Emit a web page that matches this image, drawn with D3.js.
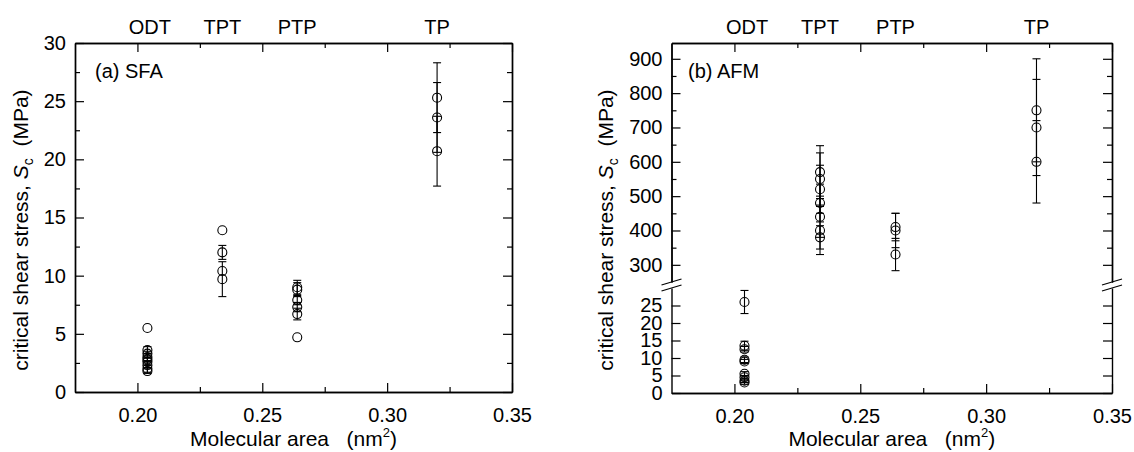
<!DOCTYPE html>
<html>
<head>
<meta charset="utf-8">
<script src="https://cdn.jsdelivr.net/npm/d3@7"></script>
<style>
body { margin: 0; background: #fff; }
text { font-family: "Liberation Sans", Arial, sans-serif; }
</style>
</head>
<body>
<script>
// phase labels along the top, placed at their molecular area
var phaseNames = ["ODT", "TPT", "PTP", "TP"];
var phaseArea = [0.205, 0.234, 0.264, 0.320];

// (a) SFA data
var sfaArea = [0.204, 0.204, 0.204, 0.204, 0.204, 0.204, 0.204, 0.204, 0.204,
               0.234, 0.234, 0.234, 0.234,
               0.264, 0.264, 0.264, 0.264, 0.264, 0.264,
               0.320, 0.320, 0.320];
var sfaStress = [5.5, 3.6, 3.3, 3.0, 2.8, 2.6, 2.3, 2.0, 1.8,
                 13.9, 12.0, 10.4, 9.7,
                 9.0, 8.8, 7.9, 7.3, 6.7, 4.7,
                 25.3, 23.6, 20.7];
var sfaErr = [0, 0.3, 0.2, 0.3, 0.2, 0.3, 0.2, 0.3, 0.2,
              0, 0.6, 0, 1.5,
              0.6, 0.6, 0.4, 0.4, 0.5, 0,
              3.0, 3.0, 3.0];

// (b) AFM data
var afmArea = [0.204, 0.204, 0.204, 0.204, 0.204, 0.204, 0.204, 0.204, 0.204,
               0.234, 0.234, 0.234, 0.234, 0.234, 0.234, 0.234,
               0.264, 0.264, 0.264,
               0.320, 0.320, 0.320];
var afmStress = [26, 13.5, 12.5, 9.5, 9.0, 5.5, 4.5, 3.5, 3.0,
                 570, 550, 520, 480, 440, 400, 380,
                 410, 400, 330,
                 750, 700, 600];
var afmErr = [3.3, 1.3, 0.8, 0.8, 0.6, 0.6, 0.5, 0.5, 0.5,
              77, 76, 70, 55, 60, 70, 34,
              40, 50, 47,
              150, 140, 120];

// ticks
var xMajor = [0.20, 0.25, 0.30, 0.35];
var xMinor = [0.225, 0.275, 0.325];
var sfaMajor = [0, 5, 10, 15, 20, 25, 30];
var sfaMinor = [2.5, 7.5, 12.5, 17.5, 22.5, 27.5];
var afmUpMajor = [300, 400, 500, 600, 700, 800, 900];
var afmUpMinor = [350, 450, 550, 650, 750, 850];
var afmLowMajor = [0, 5, 10, 15, 20, 25];

var W = 1134, H = 452;
var FS = 20;
var svg = d3.select("body").append("svg")
    .attr("width", W)
    .attr("height", H);

function styleAxis(sel) {
  sel.attr("font-size", FS).attr("font-family", null);
  sel.selectAll("path.domain").attr("stroke", "#000").attr("stroke-width", 1.4);
  sel.selectAll(".tick line").attr("stroke", "#000").attr("stroke-width", 1.2);
  sel.selectAll("text").attr("fill", "#000");
}

// frame: bottom/top axes with major+minor inward ticks
function xAxes(x, yTop, yBot) {
  svg.append("g").attr("transform", "translate(0," + yBot + ")")
    .call(d3.axisBottom(x).tickValues(xMajor).tickFormat(d3.format(".2f"))
      .tickSizeInner(-9).tickSizeOuter(0).tickPadding(16))
    .call(styleAxis);
  svg.append("g").attr("transform", "translate(0," + yBot + ")")
    .call(d3.axisBottom(x).tickValues(xMinor).tickFormat("")
      .tickSizeInner(-5).tickSizeOuter(0))
    .call(styleAxis);
  svg.append("g").attr("transform", "translate(0," + yTop + ")")
    .call(d3.axisTop(x).tickValues(xMajor).tickFormat("")
      .tickSizeInner(-9).tickSizeOuter(0))
    .call(styleAxis);
  svg.append("g").attr("transform", "translate(0," + yTop + ")")
    .call(d3.axisTop(x).tickValues(xMinor).tickFormat("")
      .tickSizeInner(-5).tickSizeOuter(0))
    .call(styleAxis);
}

function yAxes(y, xLeft, xRight, major, minor) {
  svg.append("g").attr("transform", "translate(" + xLeft + ",0)")
    .call(d3.axisLeft(y).tickValues(major).tickFormat(d3.format("d"))
      .tickSizeInner(-9).tickSizeOuter(0).tickPadding(9))
    .call(styleAxis);
  svg.append("g").attr("transform", "translate(" + xRight + ",0)")
    .call(d3.axisRight(y).tickValues(major).tickFormat("")
      .tickSizeInner(-9).tickSizeOuter(0))
    .call(styleAxis);
  if (minor.length) {
    svg.append("g").attr("transform", "translate(" + xLeft + ",0)")
      .call(d3.axisLeft(y).tickValues(minor).tickFormat("")
        .tickSizeInner(-5).tickSizeOuter(0))
      .call(styleAxis);
    svg.append("g").attr("transform", "translate(" + xRight + ",0)")
      .call(d3.axisRight(y).tickValues(minor).tickFormat("")
        .tickSizeInner(-5).tickSizeOuter(0))
      .call(styleAxis);
  }
}

function points(xs, ys, es, x, yOf) {
  var g = svg.append("g");
  var idx = d3.range(xs.length);
  // error bars
  var eb = g.selectAll(".eb").data(idx.filter(function(i) { return es[i] > 0; }))
    .enter().append("g").attr("class", "eb")
    .attr("stroke", "#000").attr("stroke-width", 1.1);
  eb.append("line")
    .attr("x1", function(i) { return x(xs[i]); })
    .attr("x2", function(i) { return x(xs[i]); })
    .attr("y1", function(i) { return yOf(ys[i] - es[i]); })
    .attr("y2", function(i) { return yOf(ys[i] + es[i]); });
  [-1, 1].forEach(function(s) {
    eb.append("line")
      .attr("x1", function(i) { return x(xs[i]) - 4; })
      .attr("x2", function(i) { return x(xs[i]) + 4; })
      .attr("y1", function(i) { return yOf(ys[i] + s * es[i]); })
      .attr("y2", function(i) { return yOf(ys[i] + s * es[i]); });
  });
  g.selectAll("circle").data(idx).enter().append("circle")
    .attr("cx", function(i) { return x(xs[i]); })
    .attr("cy", function(i) { return yOf(ys[i]); })
    .attr("r", 4.5)
    .attr("fill", "none")
    .attr("stroke", "#000")
    .attr("stroke-width", 1.1);
}

function labels(x, cx, yLabX, yLabY, panelText, panelX) {
  // phase names on top
  svg.append("g").selectAll("text").data(phaseNames).enter().append("text")
    .attr("x", function(d, i) { return x(phaseArea[i]); })
    .attr("y", 34)
    .attr("text-anchor", "middle")
    .attr("font-size", FS)
    .text(function(d) { return d; });
  // panel tag
  svg.append("text").attr("x", panelX).attr("y", 78)
    .attr("font-size", FS).text(panelText);
  // x title
  var xt = svg.append("text").attr("x", cx).attr("y", 446)
    .attr("text-anchor", "middle").attr("font-size", 21);
  xt.append("tspan").text("Molecular area\u00a0\u00a0\u00a0(nm");
  xt.append("tspan").attr("dy", -9).attr("font-size", 13).text("2");
  xt.append("tspan").attr("dy", 9).text(")");
  // y title
  var yt = svg.append("text")
    .attr("transform", "translate(" + yLabX + "," + yLabY + ") rotate(-90)")
    .attr("text-anchor", "middle").attr("font-size", 21);
  yt.append("tspan").text("critical shear stress, ");
  yt.append("tspan").attr("font-style", "italic").text("S");
  yt.append("tspan").attr("dy", 5).attr("font-size", 14).text("c");
  yt.append("tspan").attr("dy", -5).text("\u00a0\u00a0(MPa)");
}

// ---------- panel (a) SFA ----------
var xa = d3.scaleLinear().domain([0.175, 0.35]).range([75, 512]);
var ya = d3.scaleLinear().domain([0, 30]).range([392, 43]);
xAxes(xa, 43, 392);
yAxes(ya, 75, 512, sfaMajor, sfaMinor);
points(sfaArea, sfaStress, sfaErr, xa, ya);
labels(xa, 293.5, 28, 230, "(a) SFA", 95);

// ---------- panel (b) AFM, broken y axis ----------
var xb = d3.scaleLinear().domain([0.175, 0.35]).range([671.5, 1112]);
var yUp = d3.scaleLinear().domain([250, 946]).range([282, 43]);
var yLow = d3.scaleLinear().domain([0, 30]).range([393, 288]);
function yb(v) { return v > 100 ? yUp(v) : yLow(v); }
xAxes(xb, 43, 393);
yAxes(yUp, 671.5, 1112, afmUpMajor, afmUpMinor);
yAxes(yLow, 671.5, 1112, afmLowMajor, []);
// break marks
[671.5, 1112].forEach(function(ax) {
  [282, 288].forEach(function(by) {
    svg.append("line")
      .attr("x1", ax - 10).attr("y1", by + 3)
      .attr("x2", ax + 10).attr("y2", by - 3)
      .attr("stroke", "#000").attr("stroke-width", 1.2);
  });
});
points(afmArea, afmStress, afmErr, xb, yb);
labels(xb, 891.8, 613, 230, "(b) AFM", 688);
</script>
</body>
</html>
